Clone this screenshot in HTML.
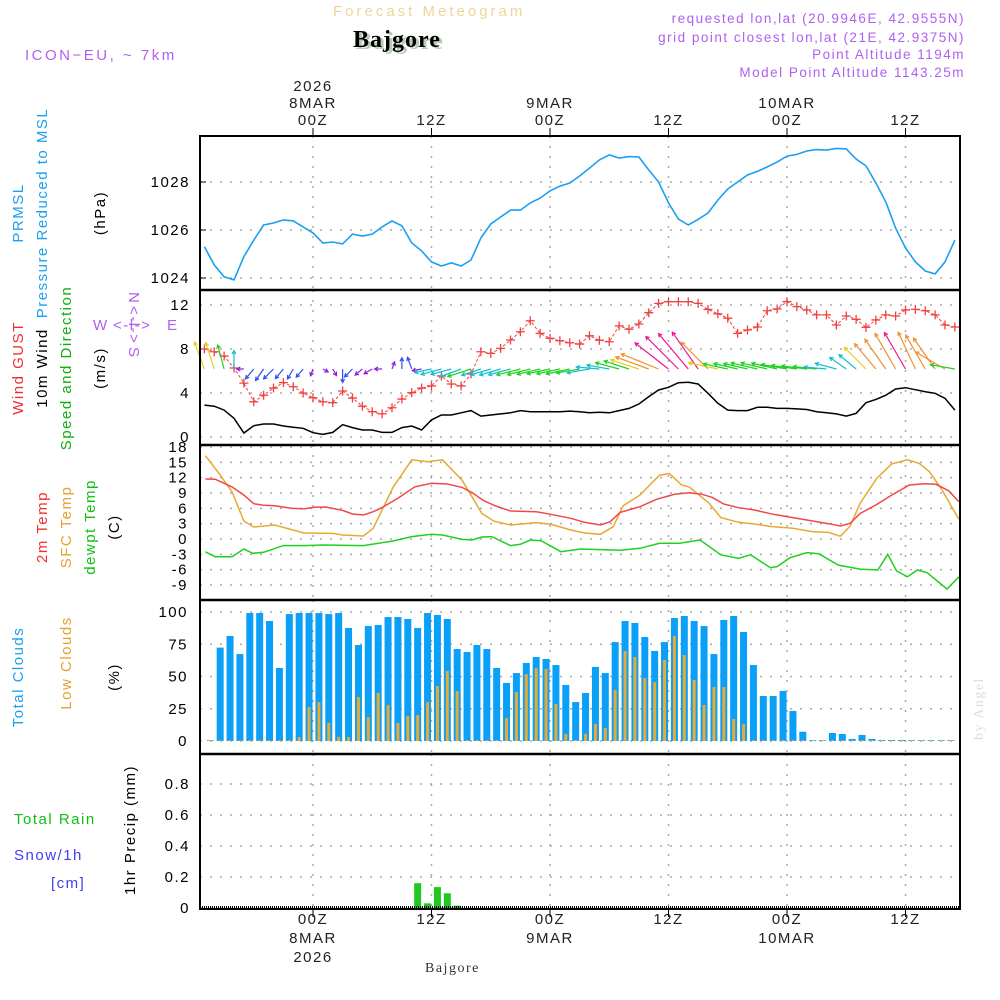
<!DOCTYPE html>
<html><head><meta charset="utf-8"><style>
body{margin:0;background:#fff;}
svg{display:block;font-family:"Liberation Sans",sans-serif;}
text{font-size:15px;letter-spacing:1.5px;}
</style></head><body>
<svg id="chart" width="1000" height="1000" viewBox="0 0 1000 1000" xmlns="http://www.w3.org/2000/svg">
<g>
<text x="333" y="16" fill="#f2d49a" style="letter-spacing:3px">Forecast Meteogram</text>
<text x="356" y="49" fill="#b8ccb8" style="font-family:'Liberation Serif',serif;font-weight:bold;font-size:24px;letter-spacing:1px">Bajgore</text>
<text x="353" y="47" fill="#000" style="font-family:'Liberation Serif',serif;font-weight:bold;font-size:24px;letter-spacing:1px">Bajgore</text>
<text x="25" y="60" fill="#b060f0" style="letter-spacing:2.5px">ICON−EU, ~ 7km</text>
<text x="965" y="23" fill="#b060f0" text-anchor="end" style="font-size:13.5px">requested lon,lat (20.9946E, 42.9555N)</text>
<text x="965" y="42" fill="#b060f0" text-anchor="end" style="font-size:13.5px">grid point closest lon,lat (21E, 42.9375N)</text>
<text x="965" y="59" fill="#b060f0" text-anchor="end" style="font-size:13.5px">Point Altitude 1194m</text>
<text x="965" y="77" fill="#b060f0" text-anchor="end" style="font-size:13.5px">Model Point Altitude 1143.25m</text>
</g>
<g style="font-size:14px">
<text transform="translate(23,213) rotate(-90)" text-anchor="middle" fill="#1aa0f0">PRMSL</text>
<text transform="translate(47,213) rotate(-90)" text-anchor="middle" fill="#1aa0f0">Pressure Reduced to MSL</text>
<text transform="translate(105,213) rotate(-90)" text-anchor="middle" fill="#000">(hPa)</text>
<text transform="translate(23,368) rotate(-90)" text-anchor="middle" fill="#f03030">Wind GUST</text>
<text transform="translate(47,368) rotate(-90)" text-anchor="middle" fill="#000">10m Wind</text>
<text transform="translate(71,368) rotate(-90)" text-anchor="middle" fill="#10b010">Speed and Direction</text>
<text transform="translate(105,368) rotate(-90)" text-anchor="middle" fill="#000">(m/s)</text>
<g fill="#b060f0" style="font-size:11px;letter-spacing:0.5px">
<text x="93" y="330">W</text><text x="113" y="330">&lt;-l-&gt;</text><text x="167" y="330">E</text>
<text transform="translate(129,292) rotate(90)">N</text>
<text transform="translate(129,306) rotate(90)">&lt;-l-&gt;</text>
<text transform="translate(129,347) rotate(90)">S</text>
</g>
<text transform="translate(47,527) rotate(-90)" text-anchor="middle" fill="#f03030">2m Temp</text>
<text transform="translate(71,527) rotate(-90)" text-anchor="middle" fill="#e8a030">SFC Temp</text>
<text transform="translate(95,527) rotate(-90)" text-anchor="middle" fill="#10c010">dewpt Temp</text>
<text transform="translate(119,527) rotate(-90)" text-anchor="middle" fill="#000">(C)</text>
<text transform="translate(23,677) rotate(-90)" text-anchor="middle" fill="#1aa0f0">Total Clouds</text>
<text transform="translate(71,663) rotate(-90)" text-anchor="middle" fill="#e8a030">Low Clouds</text>
<text transform="translate(119,677) rotate(-90)" text-anchor="middle" fill="#000">(%)</text>
<text x="14" y="824" fill="#10c010">Total  Rain</text>
<text x="14" y="860" fill="#4040f0">Snow/1h</text>
<text x="51" y="888" fill="#4040f0">[cm]</text>
<text transform="translate(135,830) rotate(-90)" text-anchor="middle" fill="#000">1hr Precip (mm)</text>
</g>
<text transform="translate(983,740) rotate(-90)" fill="#ddd" style="font-family:'Liberation Serif',serif;font-size:14px">by Angel</text>
<text x="425" y="972" fill="#333" style="font-family:'Liberation Serif',serif;font-size:14px">Bajgore</text>
<g id="plot"></g>
</svg>
<script>
const pressure=[1025.30,1024.54,1024.05,1023.92,1024.89,1025.58,1026.21,1026.29,1026.42,1026.38,1026.13,1025.88,1025.46,1025.50,1025.42,1025.83,1025.75,1025.83,1026.13,1026.38,1026.17,1025.46,1025.13,1024.67,1024.50,1024.63,1024.50,1024.75,1025.67,1026.25,1026.54,1026.83,1026.83,1027.13,1027.33,1027.63,1027.83,1027.96,1028.25,1028.58,1028.92,1029.13,1029.0,1029.06,1029.04,1028.5,1028.0,1027.13,1026.46,1026.21,1026.44,1026.71,1027.25,1027.71,1028.0,1028.29,1028.44,1028.63,1028.83,1029.08,1029.15,1029.29,1029.35,1029.33,1029.4,1029.38,1028.96,1028.67,1027.96,1027.17,1026.08,1025.25,1024.67,1024.29,1024.17,1024.67,1025.58];
const gust=[8.0,7.75,7.36,6.27,4.9,3.2,3.8,4.45,4.94,4.57,4.0,3.57,3.2,3.12,4.18,3.54,2.8,2.3,2.1,2.66,3.45,4.03,4.45,4.64,5.55,4.82,4.64,5.73,7.75,7.6,8.06,8.82,9.57,10.57,9.42,8.97,8.75,8.57,8.45,9.2,8.8,8.66,10.1,9.8,10.27,11.3,12.15,12.3,12.3,12.3,12.15,11.6,11.2,10.8,9.42,9.73,10.0,11.48,11.64,12.3,11.85,11.55,11.1,11.1,10.18,11.0,10.7,9.97,10.64,11.1,11.0,11.55,11.6,11.48,11.1,10.18,10.0];
const windSpeed=[2.9,2.8,2.45,1.7,0.36,1.03,1.18,1.18,1.0,0.88,0.79,0.39,0.24,0.42,1.12,0.85,0.64,0.64,0.42,0.42,0.85,1.0,0.64,1.55,2.0,2.0,2.2,2.4,1.9,2.0,2.1,2.2,2.4,2.3,2.3,2.3,2.3,2.35,2.3,2.2,2.25,2.2,2.4,2.6,3.0,3.67,4.27,4.52,4.94,4.97,4.82,3.97,3.06,2.45,2.4,2.4,2.7,2.7,2.6,2.6,2.55,2.5,2.3,2.2,2.1,1.9,2.15,3.12,3.42,3.8,4.36,4.48,4.3,4.12,3.97,3.52,2.45];
const windDir=[160,162,165,180,90,40,35,45,40,30,40,20,300,330,0,45,50,60,90,200,180,160,80,78,75,75,70,72,72,74,74,75,76,76,77,78,78,78,80,80,95,100,105,108,108,110,112,128,135,140,145,135,102,102,103,103,103,103,103,100,98,97,96,95,105,125,130,135,140,145,150,150,155,150,145,120,100];
const t2mHours=[-10.9,-9.9,-8.2,-7,-6,-5,-3.9,-2.2,-0.9,0.1,1.3,3,4,5.1,6.1,7.1,8.6,10.3,12,13.6,15.1,16.1,17.3,18.5,20,22.6,24.1,26.1,27.5,29.1,30.1,31.1,33.1,34.8,36.6,38.1,39.4,40.4,41.6,43.1,44.7,46.6,48.6,50.6,52.2,53.4,54.4,55.4,57.1,58.6,60.4,61.9,63.1,64.4,65.4];
const t2m=[11.74,11.7,10.2,8.6,6.9,6.6,6.5,6.0,5.9,6.2,6.26,5.6,4.9,4.7,5.35,6.26,7.96,10.2,10.9,10.76,10.1,9.1,7.5,6.46,5.48,5.35,4.83,4.05,3.26,2.74,3.39,5.2,6.33,7.77,8.75,9.07,8.75,8.16,6.85,6.13,5.68,4.83,4.18,3.52,3.0,2.54,3.07,5.0,6.78,8.6,10.57,10.83,10.7,9.4,7.3];
const sfcHours=[-10.9,-9.4,-8.2,-7,-6,-3.9,-2.4,-0.9,2,3,5.1,6.1,8.1,10,11.6,13.1,15.1,17.1,18.3,20,22.6,24.1,26.1,27.5,29.1,30.4,31.4,33.1,35.1,36.1,37.3,38.1,40.1,41.3,43.1,44.7,46.6,48.6,50.6,52.2,53.4,54.4,55.4,57.1,58.6,60.2,61.4,62.4,63.6,65.4];
const sfcTemp=[16.3,12.5,9.26,3.5,2.35,2.74,1.96,1.17,1.1,0.78,0.59,2.1,10.1,15.5,15.1,15.5,11.5,5.0,3.5,2.74,3.2,2.87,1.76,1.17,0.91,2.4,6.5,8.6,12.5,12.8,10.6,10.2,7.0,4.18,3.26,2.93,2.4,2.1,1.43,1.3,0.52,2.54,7.0,11.9,14.7,15.5,14.8,13.2,9.9,3.9];
const dewHours=[-10.9,-9.9,-8.2,-7,-6.1,-5,-3,-0.9,1,5.1,8.1,10,12,13.1,15.1,16.1,17.1,18.1,20,21,22,23.1,25.1,27.1,31.1,33.1,35.1,37.1,39.2,41.3,43.1,44.3,46.3,47,48.3,50,51.2,53.2,55.4,57.2,58.2,59.1,60.2,61.2,62.2,64.2,65.4];
const dewpt=[-2.5,-3.46,-3.46,-1.96,-2.8,-2.6,-1.3,-1.3,-1.17,-1.3,-0.39,0.46,0.91,0.78,-0.07,-0.2,0.39,0.46,-1.3,-1.04,-0.2,-0.33,-2.48,-1.96,-2.2,-1.82,-0.85,-0.85,-0.2,-3.1,-3.8,-3.1,-5.6,-5.4,-3.65,-2.67,-2.87,-5.1,-5.9,-6.07,-3.0,-6.26,-7.4,-6.07,-6.6,-9.8,-7.4];
const totalClouds=[0,72.4,81.4,67.4,99.2,99.2,93,56.6,98.4,99.2,99.2,99.2,98.4,99.2,87.6,74.4,89.1,89.9,96.1,96.1,94.6,87.6,99.2,97.7,94.6,71.3,69,74.4,71.3,56.6,45,52.7,60.5,65.1,63.6,58.9,43.4,30.2,37.2,57.4,52.7,76.7,93,91.5,80.6,69.8,76.7,95.3,96.9,93,89.1,67.4,93.8,96.9,84.5,58.9,34.9,34.9,38.8,23.3,7.2,0,0,6.2,5.4,1.6,4.7,1.6,0.8,0.8,0.8,0,0,0,0,0];
const lowClouds=[0,0,0,0,0,0,0,0,0,3.1,26.4,30.2,14,3.1,3.1,34.1,18.6,37.2,27.9,14,19.4,20.2,30.2,42.6,54.3,38.8,0,0,0,0,17.8,38,51.9,56.6,55.8,28.7,5.4,0.8,5.4,13.2,10.1,39.5,69.8,65.1,48.8,45.7,62.8,81.4,66.7,47.3,27.9,41.9,41.9,17.1,13.2,0,0,0,0,0,0,0,0,0,0,0,0,0,0,0,0,0,0,0,0,0];
const precip=[0,0,0,0,0,0,0,0,0,0,0,0,0,0,0,0,0,0,0,0,0,0.16,0.03,0.135,0.095,0.015,0,0,0,0,0,0,0,0,0,0,0,0,0,0,0,0,0,0,0,0,0,0,0,0,0,0,0,0,0,0,0,0,0,0,0,0,0,0,0,0,0,0,0,0,0,0,0,0,0,0];
const pTicks=[1024,1026,1028];
const wTicks=[0,4,8,12];
const tTicks=[-9,-6,-3,0,3,6,9,12,15,18];
const cTicks=[0,25,50,75,100];
const rTicks=["0","0.2","0.4","0.6","0.8"];
const gridHours=[0,12,24,36,48,60];
const topLabels=[["2026","8MAR","00Z"],["","","12Z"],["","9MAR","00Z"],["","","12Z"],["","10MAR","00Z"],["","","12Z"]];
const botLabels=[["00Z","8MAR","2026"],["12Z","",""],["00Z","9MAR",""],["12Z","",""],["00Z","10MAR",""],["12Z","",""]];

const NS="http://www.w3.org/2000/svg";
const plot=document.getElementById('plot');
const L=200,R=960;
const X=t=>313+t*9.875;
const yP=p=>278-(p-1024)*24;
const yW=v=>437-v*11;
const yT=v=>539-v*5.11;
const yC=v=>741-v*1.29;
const yR=v=>908-v*155;
function mk(tag,attrs,parent){const e=document.createElementNS(NS,tag);for(const k in attrs)e.setAttribute(k,attrs[k]);(parent||plot).appendChild(e);return e;}
function txt(s,x,y,anchor,fill,parent){const e=mk('text',{x:x,y:y,'text-anchor':anchor,fill:fill},parent);e.textContent=s;return e;}
const panels=[[136,290],[290,445],[445,600],[600,754],[754,909]];
const grid=mk('g',{});


function hgrid(y){mk('line',{x1:L,x2:R,y1:y,y2:y,stroke:'#aaa','stroke-width':1.5,'stroke-dasharray':'2,8'},grid);}
gridHours.forEach(h=>{panels.forEach(p=>{mk('line',{x1:X(h),x2:X(h),y1:p[0],y2:p[1],stroke:'#aaa','stroke-width':1.5,'stroke-dasharray':'2,8'},grid);});});
const axes=mk('g',{fill:'#000'});


pTicks.forEach(v=>{hgrid(yP(v));txt(String(v),190,yP(v)+5,'end','#000',axes);mk('line',{x1:L,x2:L+6,y1:yP(v),y2:yP(v),stroke:'#000'},axes);});
wTicks.forEach(v=>{hgrid(yW(v));txt(String(v),190,yW(v)+5,'end','#000',axes);});
tTicks.forEach(v=>{hgrid(yT(v));txt(String(v),188,yT(v)+5,'end','#000',axes);});
cTicks.forEach(v=>{hgrid(yC(v));txt(String(v),188,yC(v)+5,'end','#000',axes);});
rTicks.forEach(s=>{const v=parseFloat(s);hgrid(yR(v));txt(s,190,yR(v)+5,'end','#000',axes);});
const tl=mk('g',{});


gridHours.forEach((h,i)=>{
  const x=X(h);
  topLabels[i].forEach((s,j)=>{if(s)txt(s,x,91+j*17,'middle','#222',tl);});
  botLabels[i].forEach((s,j)=>{if(s)txt(s,x,924+j*19,'middle','#222',tl);});
  mk('line',{x1:x,x2:x,y1:136,y2:128,stroke:'#000'},tl);
  mk('line',{x1:x,x2:x,y1:909,y2:917,stroke:'#000'},tl);
});
function linePath(xs,ys){return xs.map((x,i)=>(i?'L':'M')+x.toFixed(1)+','+ys[i].toFixed(1)).join('');}
const hrs=pressure.map((_,i)=>i-11);
const pp=mk('path',{d:linePath(hrs.map(X),pressure.map(yP)),fill:'none',stroke:'#1aa0f0','stroke-width':1.6});


const ws=mk('path',{d:linePath(hrs.map(X),windSpeed.map(yW)),fill:'none',stroke:'#000','stroke-width':1.5});


const gp=mk('path',{d:linePath(hrs.map(X),gust.map(yW)),fill:'none',stroke:'#f04040','stroke-width':1,'stroke-dasharray':'3,2'});


const gm=mk('g',{stroke:'#f04040','stroke-width':1.3});


gust.forEach((v,i)=>{const x=X(hrs[i]),y=yW(v);mk('path',{d:`M${x-4.5},${y}H${x+4.5}M${x},${y-4.5}V${y+4.5}`},gm);});
function windColor(s){if(s<0.7)return '#9020e0';if(s<1.3)return '#3050f0';if(s<2.3)return '#10c0d0';if(s<2.75)return '#20d020';if(s<3.3)return '#e0d020';if(s<4.4)return '#f09030';return '#f01890';}
const wa=mk('g',{'stroke-width':1.2,fill:'none'});


windDir.forEach((d,i)=>{
  const s=windSpeed[i];const len=4+s*8.5;const a=(d+180)*Math.PI/180;
  const x0=X(hrs[i]),y0=369;const x1=x0+Math.sin(a)*len,y1=y0-Math.cos(a)*len;
  const b=Math.atan2(y0-y1,x0-x1);const h=4;
  const hx1=x1+h*Math.cos(b+0.5),hy1=y1+h*Math.sin(b+0.5),hx2=x1+h*Math.cos(b-0.5),hy2=y1+h*Math.sin(b-0.5);
  mk('path',{d:`M${x0},${y0}L${x1},${y1}M${hx1},${hy1}L${x1},${y1}L${hx2},${hy2}`,stroke:windColor(s)},wa);
});
const sp=mk('path',{d:linePath(sfcHours.map(X),sfcTemp.map(yT)),fill:'none',stroke:'#e8a830','stroke-width':1.5});


const tp=mk('path',{d:linePath(t2mHours.map(X),t2m.map(yT)),fill:'none',stroke:'#f04848','stroke-width':1.5});


const dp=mk('path',{d:linePath(dewHours.map(X),dewpt.map(yT)),fill:'none',stroke:'#20d020','stroke-width':1.5});


const cg=mk('g',{});


totalClouds.forEach((v,i)=>{const x=X(i-10.4);const h=Math.max(v*1.29,0.8);
  const r=mk('rect',{x:x-3.5,y:741-h,width:7,height:h,fill:'#0aa0f8'},cg);
  
  
});
lowClouds.forEach((v,i)=>{const x=X(i-10.4);const h=Math.max(v*1.29,0.8);
  const r=mk('rect',{x:x-1.5,y:741-h,width:3,height:h,fill:'#e8aa30'},cg);
  
  
});
const rg=mk('g',{});


precip.forEach((v,i)=>{if(v<=0)return;const x=X(i-10.4);
  const r=mk('rect',{x:x-3.5,y:yR(v),width:7,height:v*155,fill:'#20c820'},rg);
  
  
});
mk('line',{x1:L,x2:R,y1:907,y2:907,stroke:'#000','stroke-width':2,'stroke-dasharray':'1,1'});
const fr=mk('g',{fill:'none',stroke:'#000'});


mk('rect',{x:L,y:136,width:R-L,height:909-136,'stroke-width':2},fr);
[290,445,600,754].forEach(y=>mk('line',{x1:L-1,x2:R+1,y1:y,y2:y,'stroke-width':2.5},fr));
</script>
</body></html>
